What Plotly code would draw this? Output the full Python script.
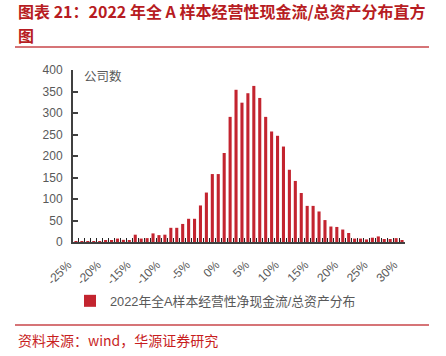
import plotly.graph_objects as go

# ---- data ----
bins = [-25, -24, -23, -22, -21, -20, -19, -18, -17, -16,
        -15, -14, -13, -12, -11, -10, -9, -8, -7, -6,
        -5, -4, -3, -2, -1, 0, 1, 2, 3, 4,
        5, 6, 7, 8, 9, 10, 11, 12, 13, 14,
        15, 16, 17, 18, 19, 20, 21, 22, 23, 24,
        25, 26, 27, 28, 29, 30]
counts = [2, 1, 2, 2, 2, 3, 3, 8, 5, 4,
          17, 8, 9, 20, 16, 17, 33, 33, 42, 54,
          54, 85, 115, 158, 158, 207, 291, 354, 324, 346,
          363, 335, 291, 257, 247, 222, 168, 142, 114, 84,
          84, 71, 51, 36, 35, 29, 21, 8, 8, 6,
          10, 13, 7, 7, 9, 3]
tick_vals = [-25, -20, -15, -10, -5, 0, 5, 10, 15, 20, 25, 30]
tick_text = ["-25%", "-20%", "-15%", "-10%", "-5%", "0%", "5%", "10%", "15%", "20%", "25%", "30%"]
boundaries = [b + 0.5 for b in bins[:-1]]
y_ticks = [0, 50, 100, 150, 200, 250, 300, 350, 400]

series_name = "2022年全A样本经营性净现金流/总资产分布"
title_line1 = "图表 21：2022 年全 A 样本经营性现金流/总资产分布直方"
title_line2 = "图"
source_text = "资料来源：wind，华源证券研究"

BAR = "#C3242F"
RED = "#B71C22"
LINE_RED = "#C8464A"
AX = "#404040"
GRAY = "#595959"
FONT = "Liberation Sans, Noto Sans CJK SC, sans-serif"
CJK = "Noto Sans CJK SC, sans-serif"

W, H = 446, 356
L, R, T, B = 73, 41, 70, 114
pw = W - L - R
ph = H - T - B


def px_y(y):
    return (H - B - y) / ph


fig = go.Figure()
fig.add_trace(go.Bar(x=bins, y=counts, name=series_name, marker_color=BAR,
                     marker_line_width=0, showlegend=True))

fig.update_layout(
    width=W, height=H,
    margin=dict(l=L, r=R, t=T, b=B, autoexpand=False),
    paper_bgcolor="white", plot_bgcolor="white",
    bargap=0.48,
    font=dict(family=FONT, size=12, color=GRAY),
    showlegend=True,
    legend=dict(orientation="h", x=-3 / pw, xanchor="left",
                y=px_y(301), yanchor="middle",
                font=dict(family=FONT, size=12.8, color=GRAY),
                bgcolor="rgba(0,0,0,0)"),
)

fig.update_xaxes(
    range=[-25.5, 30.5], showgrid=False, zeroline=False,
    showline=True, linecolor=AX, linewidth=2,
    tickmode="array", tickvals=tick_vals, ticktext=tick_text,
    tickangle=-45, ticks="", ticklabelstandoff=9, ticklabelshift=-8,
    tickfont=dict(family=FONT, size=12, color=GRAY),
    minor=dict(tickmode="array", tickvals=boundaries, ticks="inside",
               ticklen=4, tickwidth=1, tickcolor="#222222", showgrid=False),
)
fig.update_yaxes(
    range=[0, 400], showgrid=False, zeroline=False,
    showline=True, linecolor=AX, linewidth=2,
    tickmode="array", tickvals=y_ticks,
    ticks="inside", ticklen=5, tickwidth=1.5, tickcolor=AX,
    ticklabelstandoff=6,
    tickfont=dict(family=FONT, size=12, color=GRAY),
)

fig.add_annotation(xref="paper", yref="paper", x=0, xshift=16 - L, y=px_y(11),
                   xanchor="left", yanchor="middle", showarrow=False,
                   text="<b>" + title_line1 + "</b>",
                   font=dict(family=CJK, size=16, color=RED))
fig.add_annotation(xref="paper", yref="paper", x=0, xshift=16 - L, y=px_y(35),
                   xanchor="left", yanchor="middle", showarrow=False,
                   text="<b>" + title_line2 + "</b>",
                   font=dict(family=CJK, size=16, color=RED))
fig.add_annotation(xref="paper", yref="paper", x=0, xshift=82 - L, y=px_y(75),
                   xanchor="left", yanchor="middle", showarrow=False,
                   text="公司数", font=dict(family=CJK, size=12.5, color=GRAY))
fig.add_annotation(xref="paper", yref="paper", x=0, xshift=16 - L, y=px_y(340),
                   xanchor="left", yanchor="middle", showarrow=False,
                   text=source_text, font=dict(family=CJK, size=14, color="#C81E1E"))

for yline in (47, 325):
    fig.add_shape(type="line", xref="paper", yref="paper", xsizemode="pixel",
                  xanchor=0, x0=15 - L, x1=429 - L, y0=px_y(yline), y1=px_y(yline),
                  line=dict(color=LINE_RED, width=1.5))

fig.write_html("out.html", config={"displayModeBar": False},
               post_script="document.body.style.margin='0';document.body.style.overflow='hidden';")
